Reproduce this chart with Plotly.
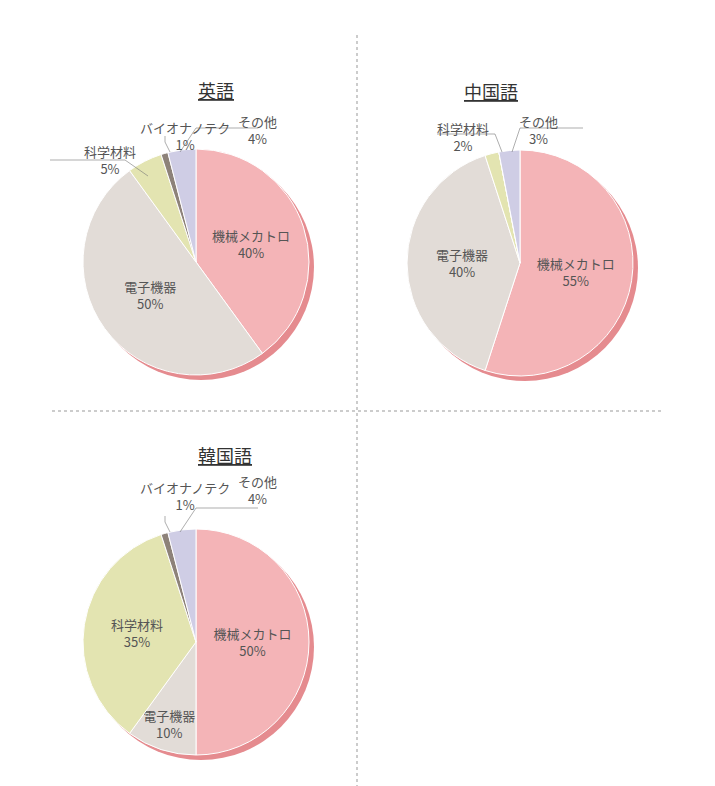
import plotly.graph_objects as go

W, H = 715, 786
OFF = 8  # page body margin

categories = ["機械メカトロ", "電子機器", "科学材料", "バイオナノテク", "その他"]
colors = ["#f4b4b7", "#e2dcd7", "#e3e4b1", "#8d8279", "#cfcde5"]

titles = ["英語", "中国語", "韓国語"]
values_en = [40, 50, 5, 1, 4]
values_cn = [55, 40, 2, 0, 3]
values_kr = [50, 10, 35, 1, 4]

# pixel centre of each pie, radius
centers = [(196, 262), (520, 263), (196, 642)]
R = 113


def px(x, y):
    return (x - OFF) / W, 1 - (y - OFF) / H


def dom(cx, cy, dx=0, dy=0):
    x0, y1 = px(cx - R + dx, cy - R + dy)
    x1, y0 = px(cx + R + dx, cy + R + dy)
    return dict(x=[x0, x1], y=[y0, y1])


fig = go.Figure()
txt_font = dict(family="Noto Sans CJK JP", size=13, color="#555555")

for (cx, cy), vals, title in zip(centers, [values_en, values_cn, values_kr], titles):
    # shadow
    fig.add_trace(go.Pie(values=[1], domain=dom(cx, cy, 5, 5), marker=dict(colors=["#e58b8f"]),
                         textinfo="none", hoverinfo="skip", showlegend=False, sort=False))
    texts = [f"{c}<br>{v}%" if v >= 10 else "" for c, v in zip(categories, vals)]
    fig.add_trace(go.Pie(values=vals, labels=categories, domain=dom(cx, cy), sort=False,
                         direction="clockwise", rotation=0,
                         marker=dict(colors=colors, line=dict(color="white", width=1)),
                         text=texts, textinfo="text", textposition="inside",
                         insidetextfont=txt_font, insidetextorientation="horizontal",
                         showlegend=False))
    tx, ty = px(cx, cy - 187)
    fig.add_annotation(x=tx, y=ty, xref="paper", yref="paper", text=f"<u>{title}</u>",
                       showarrow=False, font=dict(family="Noto Sans CJK JP", size=18, color="#333333"))

# outside labels for small slices (text pixel pos, leader line points)
outside = [
    ("バイオナノテク<br>1%", (138, 116), [(165, 136), (165, 142), (170, 152)]),
    ("科学材料<br>5%", (82, 140), [(50, 160), (125, 160), (148, 176)]),
    ("その他<br>4%", (236, 110), [(258, 128), (196, 128), (180, 152)]),
    ("科学材料<br>2%", (463, 117), [(437, 134), (495, 134), (502, 152)]),
    ("その他<br>3%", (560, 110), [(583, 128), (520, 128), (512, 152)]),
    ("バイオナノテク<br>1%", (138, 496), [(165, 516), (165, 522), (170, 532)]),
    ("その他<br>4%", (236, 490), [(258, 508), (196, 508), (180, 532)]),
]
shapes = []
for text, (x, y), pts in outside:
    ax, ay = px(x, y)
    fig.add_annotation(x=ax, y=ay, xref="paper", yref="paper", text=text, showarrow=False,
                       font=txt_font)
    path = "M " + " L ".join(f"{px(a, b)[0]},{px(a, b)[1]}" for a, b in pts)
    shapes.append(dict(type="path", path=path, xref="paper", yref="paper",
                       line=dict(color="#777777", width=0.6)))

# dotted separators
a, b = px(357, 35); c, d = px(357, 786)
shapes.append(dict(type="line", x0=a, y0=b, x1=c, y1=d, xref="paper", yref="paper",
                   line=dict(color="#999999", width=1, dash="dot")))
a, b = px(52, 411); c, d = px(662, 411)
shapes.append(dict(type="line", x0=a, y0=b, x1=c, y1=d, xref="paper", yref="paper",
                   line=dict(color="#999999", width=1, dash="dot")))

fig.update_layout(width=W, height=H, margin=dict(l=0, r=0, t=0, b=0),
                  paper_bgcolor="white", plot_bgcolor="white", shapes=shapes,
                  uniformtext=dict(minsize=13, mode="show"),
                  font=dict(family="Noto Sans CJK JP"))
fig.write_html("out.html")
